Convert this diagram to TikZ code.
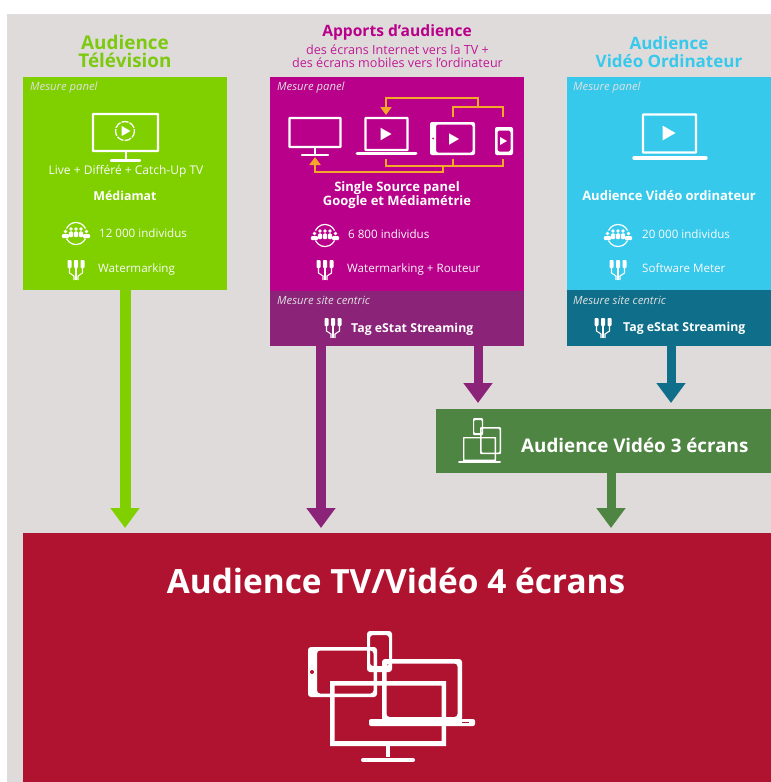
\documentclass[tikz,border=0pt]{standalone}
\usepackage{fontspec}
\setmainfont{Open Sans}
\usetikzlibrary{arrows.meta}
\definecolor{bggray}{HTML}{E0DBDB}
\definecolor{cgreen}{HTML}{80D000}
\definecolor{cgreent}{HTML}{7CC90F}
\definecolor{cmag}{HTML}{B9008A}
\definecolor{cmagd}{HTML}{8B2379}
\definecolor{ccyan}{HTML}{36C9EC}
\definecolor{cteal}{HTML}{0F6F8A}
\definecolor{cfor}{HTML}{4F8542}
\definecolor{cred}{HTML}{B0132F}
\definecolor{corg}{HTML}{F5A72A}
\newcommand{\fsz}[1]{\fontsize{#1}{#1}\selectfont}
\tikzset{
  x=1pt,y=-1pt,
  panel/.style={anchor=north west,inner sep=0pt,outer sep=0pt,minimum width=#1},
  title/.style={align=center,font=\fsz{17}\bfseries,inner sep=0pt},
  subt/.style={align=center,font=\fsz{12.6},inner sep=0pt,text=cmag!90!white},
  mesure/.style={anchor=west,font=\fsz{11.3}\itshape,inner sep=0pt,text=white!88!black,text height=8pt,text depth=2pt},
  lite/.style={anchor=west,font=\fsz{11.6},inner sep=0pt,text=white!85!bggray,text height=9pt,text depth=3pt},
  liteC/.style={font=\fsz{12},inner sep=0pt,text=white!85!bggray,text height=9pt,text depth=3pt},
  hard/.style={font=\fsz{13}\bfseries,inner sep=0pt,text=white,align=center},
  hardW/.style={anchor=west,font=\fsz{12.3}\bfseries,inner sep=0pt,text=white,text height=9pt,text depth=3pt},
  fat/.style={line width=#1,-{Triangle[length=20pt,width=28pt]}},
  scr/.style={draw=white,line width=2.4pt,fill=none,inner sep=0pt,rounded corners=0.6pt},
  dev/.style={fill=white,even odd rule,rounded corners=#1},
  org/.style={draw=corg,line width=2.2pt},
  orgA/.style={org,-{Triangle[length=8pt,width=11pt]}},
  plug/.pic={
    \fill[white,rounded corners=0.8pt] (-8.5,-10) rectangle (-4.5,-2);
    \fill[white,rounded corners=0.8pt] (-2,-10) rectangle (2,-2);
    \fill[white,rounded corners=0.8pt] (4.5,-10) rectangle (8.5,-2);
    \draw[white,line width=1.1pt] (-6.5,-2) -- (-6.5,3) -- (-2,6) -- (-2,10);
    \draw[white,line width=1.1pt] (0,-2) -- (0,10);
    \draw[white,line width=1.1pt] (6.5,-2) -- (6.5,3) -- (2,6) -- (2,10);
  },
  crowd/.pic={
    \draw[white,line width=1.2pt] (-9.5,-4.5) arc[start angle=205,end angle=335,radius=10.5];
    \draw[white,line width=1.2pt] (-9.5,5.5) arc[start angle=155,end angle=25,radius=10.5];
    \foreach \a in {-5,0,5}{
      \fill[white] (\a,-4) circle (1.9);
      \fill[white,rounded corners=1.2pt] ({\a-2.1},-1.6) rectangle ({\a+2.1},4.2);
    }
    \foreach \a in {-10.5,10.5}{
      \fill[white] (\a,-1.5) circle (1.8);
      \fill[white,rounded corners=1.2pt] ({\a-3.6},1) rectangle ({\a+3.6},5.2);
    }
  },
  playbtn/.pic={\fill[white] (-1,-1.15) -- (-1,1.15) -- (1,0) -- cycle;},
}
\begin{document}
\begin{tikzpicture}
\useasboundingbox (0,0) rectangle (771,782);
\fill[white] (0,0) rectangle (771,782);
\fill[bggray] (7,14) rectangle (771,782);

% panels
\node[panel=204pt,minimum height=213pt,fill=cgreen] (tv) at (23,77) {};
\node[panel=254pt,minimum height=214pt,fill=cmag] (mag) at (270,77) {};
\node[panel=254pt,minimum height=55pt,fill=cmagd] (magd) at (270,291) {};
\node[panel=204pt,minimum height=213pt,fill=ccyan] (cyan) at (567,77) {};
\node[panel=204pt,minimum height=56pt,fill=cteal] (teal) at (567,290) {};
\node[panel=335pt,minimum height=64pt,fill=cfor] (trois) at (436,409) {};
\node[panel=748pt,minimum height=249pt,fill=cred] (quatre) at (23,533) {};

% arrows
\coordinate (t1) at (125,528);
\coordinate (t2) at (321,528);
\coordinate (t3) at (478,403);
\coordinate (t4) at (671,403);
\coordinate (t5) at (611,528);
\draw[fat=11pt,draw=cgreen,fill=cgreen] (tv.south) -- (t1);
\draw[fat=10pt,draw=cmagd,fill=cmagd] (magd.south -| t2) -- (t2);
\draw[fat=9pt,draw=cmagd,fill=cmagd] (magd.south -| t3) -- (t3);
\draw[fat=9pt,draw=cteal,fill=cteal] (teal.south -| t4) -- (t4);
\draw[fat=9pt,draw=cfor,fill=cfor] (trois.south -| t5) -- (t5);

% titles
\node[title,text=cgreent,font=\fsz{18.9}\bfseries] (ttv) at (125,51.5) {Audience\\[-0.5pt]Télévision};
\node[title,text=cmag,font=\fsz{15.6}\bfseries] (tapp) at (397,32) {Apports d’audience};
\node[subt] (tsub) at (397.5,56.5) {des écrans Internet vers la TV +\\des écrans mobiles vers l’ordinateur};
\node[title,text=ccyan] (tcy) at (669,52.5) {Audience\\[1pt]Vidéo Ordinateur};

% mesure labels
\node[mesure] (m1) at (30,87) {Mesure panel};
\node[mesure] (m2) at (277,87) {Mesure panel};
\node[mesure] (m3) at (573,87) {Mesure panel};
\node[mesure] (m4) at (277,301) {Mesure site centric};
\node[mesure] (m5) at (573,301) {Mesure site centric};

% TV panel
\node[scr,minimum width=65pt,minimum height=37pt] (tvscr) at (125.5,132.5) {};
\draw[white,line width=2pt] (125.5,152) -- (125.5,160);
\draw[white,line width=2.4pt,line cap=round] (111,160.5) -- (140,160.5);
\draw[white,line width=1.3pt,dash pattern=on 7pt off 1.2pt] (125,131) circle (9.5);
\pic at (126,131) [scale=4.5] {playbtn};
\node[liteC] (l1) at (126,171) {Live + Différé + Catch-Up TV};
\node[hard,font=\fsz{12.4}\bfseries] (l2) at (125,196) {Médiamat};
\pic at (76,233) {crowd};
\node[lite] (l3) at (99,234) {12 000 individus};
\pic at (76,270) {plug};
\node[lite] (l4) at (98,269) {Watermarking};

% magenta panel devices
\node[scr,minimum width=51pt,minimum height=29pt] (d1) at (315,132.5) {};
\draw[white,line width=2pt] (315,148) -- (315,155);
\draw[white,line width=2.2pt,line cap=round] (302,155) -- (328,155);
\node[scr,minimum width=42pt,minimum height=32pt] (d2) at (386.5,134) {};
\draw[white,line width=3pt,line cap=round] (357,153.5) -- (416,153.5);
\pic at (386,134) [scale=5.5] {playbtn};
\fill[dev=2pt] (430,122) rectangle (475,155) (436,124.5) rectangle (472.5,152.5);
\fill[cmag] (433,138.5) circle (1);
\pic at (454,139) [scale=5] {playbtn};
\fill[dev=2pt] (495,127) rectangle (513,155) (497.5,130.5) rectangle (510.5,151.5);
\pic at (503.5,141) [scale=3.5] {playbtn};

% orange connectors
\coordinate (oa) at (386,115);
\coordinate (ob) at (478,107);
\coordinate (ot) at (478,98);
\coordinate (oc) at (453,117);
\coordinate (od) at (503,117);
\draw[orgA] (ob) -- (ot) -| (oa);
\draw[org] (oc) |- (ob) -| (od);
\draw[org] (ob) -- (od |- ob);
\coordinate (la) at (386,159);
\coordinate (lb) at (453,159);
\coordinate (lc) at (503,159);
\coordinate (jn) at (443,166);
\coordinate (jd) at (443,172);
\coordinate (tvt) at (315,157);
\draw[org] (la) |- (jn) -- (lc |- jn) -- (lc);
\draw[org] (lb) -- (lb |- jn);
\draw[orgA] (jn) -- (jd) -| (tvt);

\node[hard] (s1) at (397,195) {Single Source panel\\[0.5pt]Google et Médiamétrie};
\pic at (325,235) {crowd};
\node[lite] (s2) at (348,235) {6 800 individus};
\pic at (325,270) {plug};
\node[lite] (s3) at (347,269) {Watermarking + Routeur};
\pic at (333,328) {plug};
\node[hardW] (s4) at (351,329) {Tag eStat Streaming};

% cyan panel
\node[scr,minimum width=53pt,minimum height=38pt] (c1) at (669.5,133.5) {};
\draw[white,line width=3.4pt,line cap=round] (634,158) -- (706,158);
\pic at (669,133) [scale=6.5] {playbtn};
\node[hard] (c2) at (669,196) {Audience Vidéo ordinateur};
\pic at (618,235) {crowd};
\node[lite] (c3) at (642,235) {20 000 individus};
\pic at (618,270) {plug};
\node[lite] (c4) at (642,269) {Software Meter};
\pic at (603,328) {plug};
\node[hardW] (c5) at (623,328) {Tag eStat Streaming};

% 3 screens
\fill[dev=0.5pt] (463,437) rectangle (496,461) (464.3,438.3) rectangle (494.7,459.7);
\draw[white,line width=2pt,line cap=round] (459,462) -- (500,462);
\fill[dev=1pt] (480,427) rectangle (501,454) (481.5,428.5) rectangle (499.5,452.5);
\fill[dev=1pt] (473,418) rectangle (483,435) (474.2,420) rectangle (481.8,433);
\node[anchor=west,inner sep=0pt,font=\fsz{18.8}\bfseries,text=white] (a4) at (521,445) {Audience Vidéo 3 écrans};

% 4 screens
\node[anchor=center,inner sep=0pt,font=\fsz{33.4}\bfseries,text=white] (q1) at (396,581) {Audience TV/Vidéo 4 écrans};
\fill[dev=3pt] (308,647) rectangle (377,697) (317,650.5) rectangle (373.5,693.5);
\fill[cred] (312,672) circle (2);
\fill[dev=3pt] (367,631) rectangle (392,672) (370,635) rectangle (389,666);
\fill[dev=3pt] (382,659) rectangle (462,721) (386.5,663.5) rectangle (457.5,717);
\fill[white,rounded corners=2pt] (369,719) rectangle (475,726);
\fill[cred] (462,721.5) rectangle (469,723);
\fill[dev=0pt] (330,681) rectangle (446,746) (334.5,685.5) rectangle (441.5,741);
\draw[white,line width=4pt] (388,745) -- (388,757);
\draw[white,line width=4pt,line cap=round] (363,760) -- (413,760);
\end{tikzpicture}
\end{document}
